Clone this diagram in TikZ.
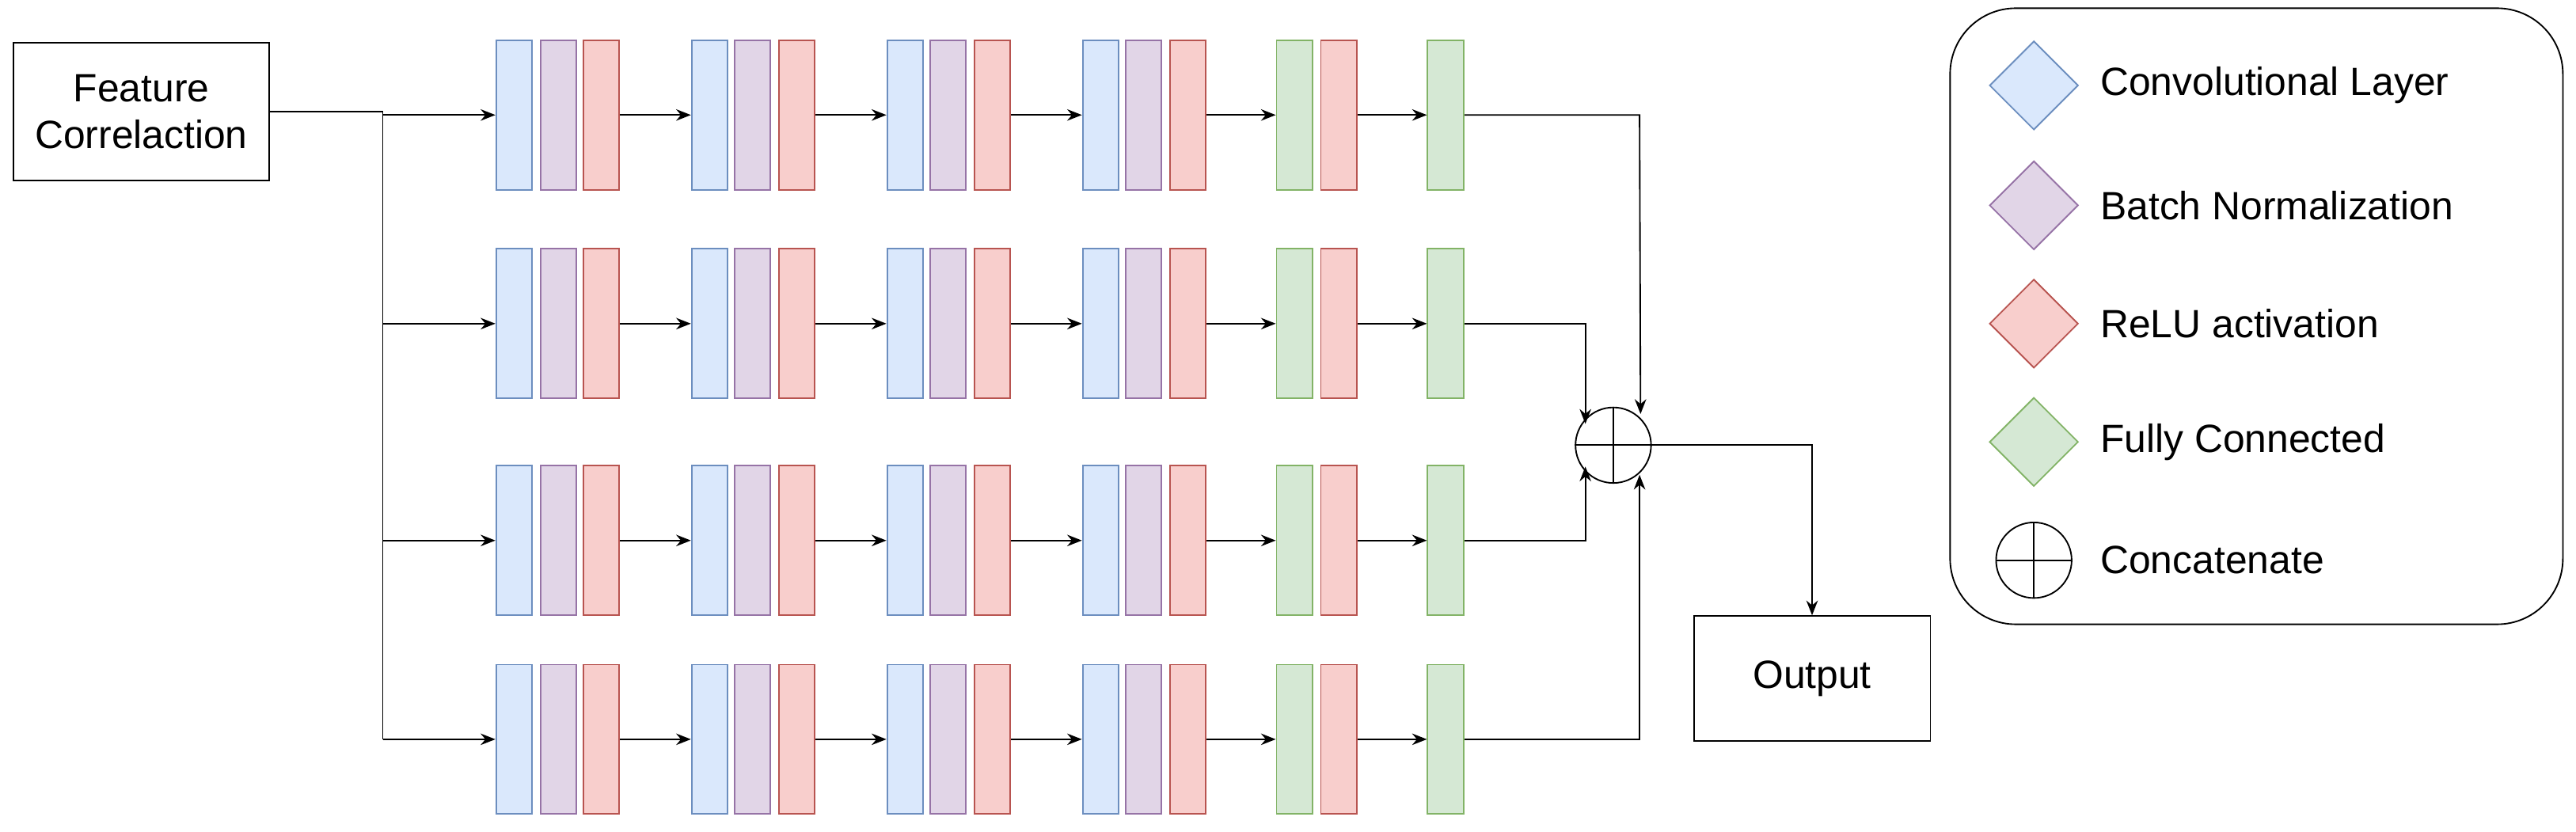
\documentclass[tikz,border=0pt]{standalone}
\usepackage{fontspec}
\setmainfont{Liberation Sans}
\usetikzlibrary{shapes.geometric,arrows.meta}
\definecolor{bF}{HTML}{DAE8FC}\definecolor{bD}{HTML}{6C8EBF}
\definecolor{pF}{HTML}{E1D5E7}\definecolor{pD}{HTML}{9673A6}
\definecolor{rF}{HTML}{F8CECC}\definecolor{rD}{HTML}{B85450}
\definecolor{gF}{HTML}{D5E8D4}\definecolor{gD}{HTML}{82B366}
\begin{document}
\begin{tikzpicture}[x=1pt,y=-1pt,
 lay/.style={draw,minimum width=22pt,minimum height=91pt,inner sep=0pt,line width=0.9pt},
 cb/.style={lay,fill=bF,draw=bD}, cp/.style={lay,fill=pF,draw=pD},
 cr/.style={lay,fill=rF,draw=rD}, cg/.style={lay,fill=gF,draw=gD},
 box/.style={draw,line width=0.9pt,font=\fontsize{24}{28}\selectfont,align=center,inner sep=0pt},
 arr/.style={-{Stealth[length=9pt,width=7pt]},line width=0.9pt},
 ln/.style={line width=0.9pt},
 dia/.style={diamond,draw,minimum width=54pt,minimum height=54pt,inner sep=0pt,line width=0.9pt},
 lt/.style={anchor=west,font=\fontsize{24}{28}\selectfont}]
\useasboundingbox (0,0) rectangle (1568,506);
\node[box,minimum width=156pt,minimum height=84pt] (fc) at (86,68) {Feature\\Correlaction};
\node[box,minimum width=144pt,minimum height=76pt] (out) at (1103,413) {Output};
\node[circle,draw,line width=0.9pt,minimum size=46pt,inner sep=0pt] (cat) at (982,271) {};
\draw[ln] (cat.north)--(cat.south) (cat.west)--(cat.east);
\coordinate (sp) at (233,68);
\draw[ln] (fc.east)--(sp)--(233,450);
\foreach \r/\y in {1/70,2/197,3/329,4/450}{
 \node[cb] (a\r) at (313,\y) {}; \node[cp] at (340,\y) {}; \node[cr] (a\r e) at (366,\y) {};
 \node[cb] (b\r) at (432,\y) {}; \node[cp] at (458,\y) {}; \node[cr] (b\r e) at (485,\y) {};
 \node[cb] (c\r) at (551,\y) {}; \node[cp] at (577,\y) {}; \node[cr] (c\r e) at (604,\y) {};
 \node[cb] (d\r) at (670,\y) {}; \node[cp] at (696,\y) {}; \node[cr] (d\r e) at (723,\y) {};
 \node[cg] (e\r) at (788,\y) {}; \node[cr] (e\r e) at (815,\y) {};
 \node[cg] (f\r) at (880,\y) {};
 \coordinate (s\r) at (233,\y);
 \draw[arr] (s\r)--(a\r);
 \draw[arr] (a\r e)--(b\r); \draw[arr] (b\r e)--(c\r); \draw[arr] (c\r e)--(d\r);
 \draw[arr] (d\r e)--(e\r); \draw[arr] (e\r e)--(f\r);
}
\draw[arr] (f1.east)--(998,70)--(cat.north east|-0,252);
\draw[arr] (f2.east)--(965,197)--(965,258);
\draw[arr] (f3.east)--(965,329)--(965,284);
\draw[arr] (f4.east)--(998,450)--(998,289);
\draw[arr] (cat.east)--(1103,271)--(out.north);
\draw[line width=0.9pt,rounded corners=40pt] (1187,5) rectangle (1560,380);
\node[dia,fill=bF,draw=bD] at (1238,52) {}; \node[lt] at (1275,52) {Convolutional Layer};
\node[dia,fill=pF,draw=pD] at (1238,125) {}; \node[lt] at (1275,125) {Batch Normalization};
\node[dia,fill=rF,draw=rD] at (1238,197) {}; \node[lt] at (1275,197) {ReLU activation};
\node[dia,fill=gF,draw=gD] at (1238,269) {}; \node[lt] at (1275,269) {Fully Connected};
\node[circle,draw,line width=0.9pt,minimum size=46pt,inner sep=0pt] (lc) at (1238,341) {};
\draw[ln] (lc.north)--(lc.south) (lc.west)--(lc.east);
\node[lt] at (1275,341) {Concatenate};
\end{tikzpicture}
\end{document}
